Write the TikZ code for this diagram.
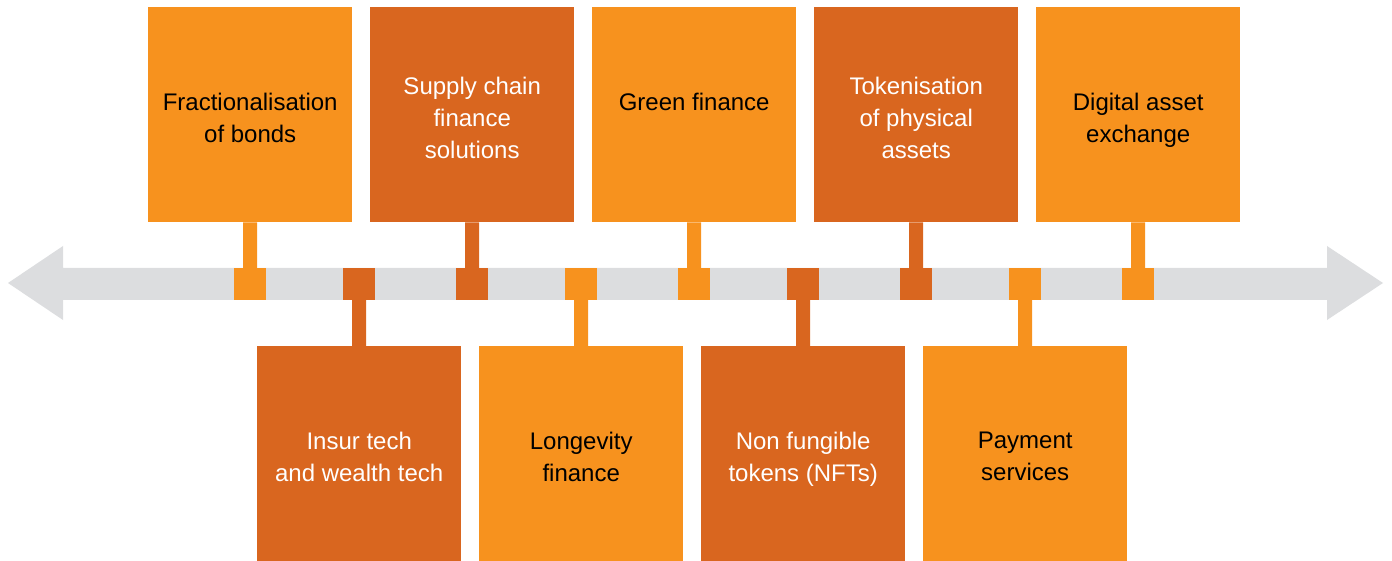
\documentclass[tikz,border=0pt]{standalone}
\usepackage{fontspec}
\setmainfont{Liberation Sans}
\definecolor{lightor}{HTML}{F7921E}
\definecolor{darkor}{HTML}{D9661F}
\definecolor{railgray}{HTML}{DCDDDF}
\begin{document}
\begin{tikzpicture}[x=1pt,y=-1pt,
  card/.style={minimum width=204pt, minimum height=215pt, anchor=north west,
    inner sep=0pt},
  caption/.style={inner sep=0pt, align=center, yshift=-7.5pt,
    font=\fontsize{24}{32}\selectfont,
    execute at begin node=\strut, execute at end node=\strut},
  light/.style={fill=lightor},
  dark/.style={fill=darkor},
  dot/.style={minimum size=32pt, inner sep=0pt},
  stem/.style={line width=14pt}
]
\useasboundingbox (0,0) rectangle (1392,561);

% timeline arrow
\fill[railgray] (8,283) -- (63,246) -- (63,268) -- (1327,268) -- (1327,246)
  -- (1383,283) -- (1327,320) -- (1327,300) -- (63,300) -- (63,320) -- cycle;

% cards above the line
\node[card, light] (t1) at (148,7)  {};
\node[card, dark]  (t2) at (370,7)  {};
\node[card, light] (t3) at (592,7)  {};
\node[card, dark]  (t4) at (814,7)  {};
\node[card, light] (t5) at (1036,7) {};

% cards below the line
\node[card, dark]  (b1) at (257,346) {};
\node[card, light] (b2) at (479,346) {};
\node[card, dark]  (b3) at (701,346) {};
\node[card, light] (b4) at (923,346) {};

% card captions
\node[caption, text=black] (t1c) at (t1.center) {Fractionalisation\\of bonds};
\node[caption, text=white] (t2c) at (t2.center) {Supply chain\\finance\\solutions};
\node[caption, text=black] (t3c) at (t3.center) {Green finance\\\mbox{}};
\node[caption, text=white] (t4c) at (t4.center) {Tokenisation\\of physical\\assets};
\node[caption, text=black] (t5c) at (t5.center) {Digital asset\\exchange};
\node[caption, text=white] (b1c) at (b1.center) {Insur tech\\and wealth tech};
\node[caption, text=black] (b2c) at (b2.center) {Longevity\\finance};
\node[caption, text=white] (b3c) at (b3.center) {Non fungible\\tokens (NFTs)};
\node[caption, text=black] (b4c) at (b4.center) {Payment\\services};

% markers on the line
\node[dot, fill=lightor] (m1) at (250,284) {};
\node[dot, fill=darkor]  (n1) at (359,284) {};
\node[dot, fill=darkor]  (m2) at (472,284) {};
\node[dot, fill=lightor] (n2) at (581,284) {};
\node[dot, fill=lightor] (m3) at (694,284) {};
\node[dot, fill=darkor]  (n3) at (803,284) {};
\node[dot, fill=darkor]  (m4) at (916,284) {};
\node[dot, fill=lightor] (n4) at (1025,284) {};
\node[dot, fill=lightor] (m5) at (1138,284) {};

% stems
\draw[stem, lightor] (t1.south) -- (m1.north);
\draw[stem, darkor]  (t2.south) -- (m2.north);
\draw[stem, lightor] (t3.south) -- (m3.north);
\draw[stem, darkor]  (t4.south) -- (m4.north);
\draw[stem, lightor] (t5.south) -- (m5.north);
\draw[stem, darkor]  (b1.north) -- (n1.south);
\draw[stem, lightor] (b2.north) -- (n2.south);
\draw[stem, darkor]  (b3.north) -- (n3.south);
\draw[stem, lightor] (b4.north) -- (n4.south);
\end{tikzpicture}
\end{document}
